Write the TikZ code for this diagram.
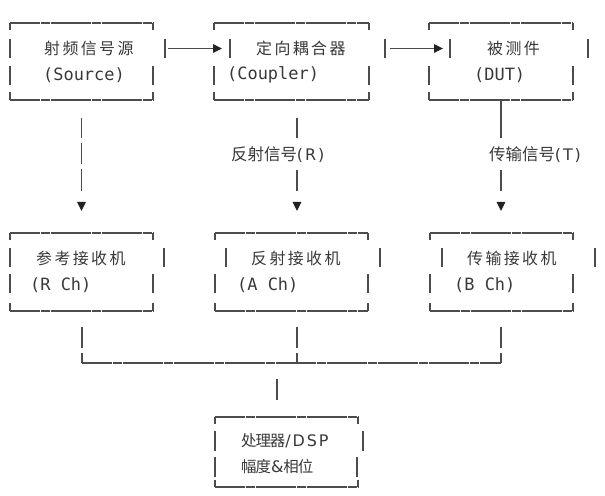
\documentclass[tikz,border=0pt]{standalone}
\usepackage{fontspec}
\setmonofont{DejaVu Sans Mono}
\newfontfamily\cjkw[LetterSpace=15]{Noto Sans CJK SC}
\newfontfamily\cjkn{Noto Sans CJK SC}
\newfontfamily\cjkt[LetterSpace=-7]{Noto Sans CJK SC}
\newfontfamily\latw[LetterSpace=12]{DejaVu Sans}
\usetikzlibrary{arrows.meta}
\definecolor{lncol}{HTML}{4C4C4C}
\definecolor{tx}{HTML}{383838}
\definecolor{tipcol}{HTML}{222222}
\tikzset{
 ln/.style={draw=lncol, line width=1.25bp},
 hl/.style={ln, dash pattern=on 9.7bp off 0.5bp},
 monotxt/.style={anchor=west, inner sep=0, text=tx, font=\ttfamily\fontsize{17}{20}\selectfont},
 boxcjk/.style={anchor=west, inner sep=0, text=tx, font=\cjkw\fontsize{16}{20}\selectfont},
 lblcjk/.style={anchor=west, inner sep=0, text=tx, font=\fontsize{15.5}{20}\selectfont},
 arr/.style={ln, -{Triangle[length=9bp,width=8.5bp,color=tipcol]}},
}
\newcommand\lc[1]{{\cjkn\fontsize{16.5}{20}\selectfont #1}}
\newcommand\pc[1]{{\cjkt\fontsize{15.5}{20}\selectfont #1}}
\newcommand\lm[1]{{\latw\fontsize{16}{20}\selectfont #1}}
% #1 xl, #2 xr, #3 yt, #4 yb, #5 row1 left x, #6 row1 right x, #7 row1 top y, #8 row2 top y
\newcommand\asciibox[8]{%
 \draw[hl] (#1,#3) -- (#2,#3);
 \draw[hl] (#1,#4) -- (#2,#4);
 \draw[ln] (#1,#3) -- (#1,#3+7);
 \draw[ln] (#2,#3) -- (#2,#3+7);
 \draw[ln] (#1,#4) -- (#1,#4-8);
 \draw[ln] (#2,#4) -- (#2,#4-8);
 \draw[ln] (#5,#7) -- (#5,#7+19);
 \draw[ln] (#6,#7) -- (#6,#7+19);
 \draw[ln] (#1,#8) -- (#1,#8+19);
 \draw[ln] (#2,#8) -- (#2,#8+19);
}
\begin{document}
\begin{tikzpicture}[x=1bp,y=-1bp]
\useasboundingbox (0,0) rectangle (605,496);
% top row boxes
\asciibox{10}{153}{23}{100}{10}{165}{39}{66}
\asciibox{214}{369}{23}{100}{230}{385}{39}{66}
\asciibox{429}{573}{23}{100}{450}{588}{39}{66}
% receiver boxes
\asciibox{10}{153}{233}{311}{10}{164}{248}{274}
\asciibox{215}{368}{233}{311}{226}{380}{248}{274}
\asciibox{430}{573}{233}{311}{442}{595}{248}{274}
% processor box
\draw[hl] (215,417) -- (358,417);
\draw[hl] (215,487) -- (358,487);
\draw[ln] (215,417) -- (215,424);
\draw[ln] (358,417) -- (358,424);
\draw[ln] (215,487) -- (215,480);
\draw[ln] (358,487) -- (358,480);
\draw[ln] (215,431) -- (215,451);
\draw[ln] (363,431) -- (363,451);
\draw[ln] (215,457) -- (215,477);
\draw[ln] (357,457) -- (357,477);

% texts
\node[boxcjk] (src1) at (44,48) {射频信号源};
\node[monotxt] (src2) at (43,75) {(Source)};
\node[boxcjk] (cpl1) at (256,48) {定向耦合器};
\node[monotxt] (cpl2) at (227,75) {(Coupler)};
\node[boxcjk] (dut1) at (487,48) {被测件};
\node[monotxt] (dut2) at (474,75) {(DUT)};
\node[lblcjk] (lblR) at (231,155) {\lc{反射信号}\lm{(R)}};
\node[lblcjk] (lblT) at (489,155) {\lc{传输信号}\lm{(T)}};
\node[boxcjk] (rr1) at (36,258) {参考接收机};
\node[monotxt] (rr2) at (30,285) {(R Ch)};
\node[boxcjk] (ra1) at (251,258) {反射接收机};
\node[monotxt] (ra2) at (237,285) {(A Ch)};
\node[boxcjk] (rb1) at (467,258) {传输接收机};
\node[monotxt] (rb2) at (454,285) {(B Ch)};
\node[lblcjk] (dsp1) at (241,441) {\pc{处理器}\lm{/DSP}};
\node[lblcjk] (dsp2) at (241,467) {\pc{幅度}\lm{\&}\pc{相位}};

% horizontal arrows
\coordinate (s1r) at (168,48.5);
\coordinate (c1l) at (222,48.5);
\coordinate (c1r) at (390,48.5);
\coordinate (d1l) at (443,48.5);
\draw[arr] (s1r) -- (c1l);
\draw[arr] (c1r) -- (d1l);

% column 1
\draw[ln] (81.5,118) -- (81.5,138);
\draw[ln] (81.5,143) -- (81.5,164);
\draw[ln] (81.5,169) -- (81.5,191);
\coordinate (a1s) at (81.5,202);
\coordinate (a1e) at (81.5,211);
\draw[arr] (a1s) -- (a1e);
% column 2
\draw[ln] (297,118) -- (297,138);
\draw[ln] (297,170) -- (297,191);
\coordinate (a2s) at (297,202);
\coordinate (a2e) at (297,211);
\draw[arr] (a2s) -- (a2e);
% column 3
\draw[ln] (501,100) -- (501,138);
\draw[ln] (501,170) -- (501,191);
\coordinate (a3s) at (501,202);
\coordinate (a3e) at (501,211);
\draw[arr] (a3s) -- (a3e);

% collectors
\foreach \cx in {82,297,501} {
  \draw[ln] (\cx,327) -- (\cx,348);
  \draw[ln] (\cx,353) -- (\cx,363);
}
\coordinate (hl1) at (82,363);
\coordinate (hl2) at (501,363);
\draw[hl] (hl1) -- (hl2);
\draw[ln] (277,379) -- (277,400);
\end{tikzpicture}
\end{document}
